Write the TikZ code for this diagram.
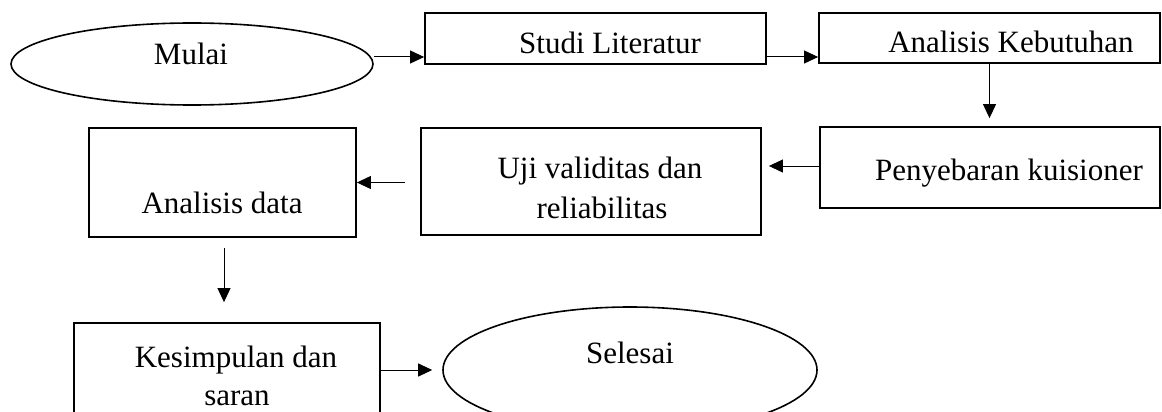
\documentclass[tikz,border=0pt]{standalone}
\usepackage{fontspec}
\setmainfont{Liberation Serif}
\usetikzlibrary{shapes.geometric,arrows.meta,calc}
\begin{document}
\begin{tikzpicture}[x=1pt,y=-1pt,
  boxst/.style={draw,line width=1.8pt,rectangle,inner sep=0pt},
  ovalst/.style={draw,line width=1.6pt,ellipse,inner sep=0pt},
  txt/.style={anchor=base,inner sep=0pt,font=\fontsize{31}{36}\selectfont},
  arr/.style={line width=1pt,-{Triangle[length=14pt,width=13pt]}}]
\useasboundingbox (0,0) rectangle (1162,412);
\clip (0,0) rectangle (1162,412);
% shapes
\node[ovalst,minimum width=362pt,minimum height=82pt] (mulai) at (192,64) {};
\node[boxst,minimum width=341pt,minimum height=51pt] (studi) at (595.5,38.5) {};
\node[boxst,minimum width=341pt,minimum height=50pt] (kebutuhan) at (989.5,38) {};
\node[boxst,minimum width=340pt,minimum height=81pt] (penyebaran) at (990,167.5) {};
\node[boxst,minimum width=340pt,minimum height=107pt] (uji) at (591,181.5) {};
\node[boxst,minimum width=267pt,minimum height=109pt] (data) at (222.5,182.5) {};
\node[boxst,minimum width=306pt,minimum height=109pt] (kesimpulan) at (227,377.5) {};
\node[ovalst,minimum width=374pt,minimum height=126pt] (selesai) at (630,370) {};
% texts
\node[txt] (tmulai) at (191,64) {Mulai};
\node[txt] (tstudi) at (610,54) {Studi Literatur};
\node[txt] (tkeb) at (1011,53) {Analisis Kebutuhan};
\node[txt] (tpeny) at (1009,180) {Penyebaran kuisioner};
\node[txt] (tuji1) at (600,178) {Uji validitas dan};
\node[txt] (tuji2) at (602,218) {reliabilitas};
\node[txt] (tdata) at (222,213) {Analisis data};
\node[txt] (tkes1) at (236,367) {Kesimpulan dan};
\node[txt] (tkes2) at (237,405) {saran};
\node[txt] (tsel) at (630,363) {Selesai};
% connectors
\coordinate (a1) at ([yshift=-18.5pt]studi.west);
\coordinate (a2) at ([yshift=-18.5pt]studi.east);
\coordinate (a3) at ([yshift=1.5pt]penyebaran.west);
\coordinate (a4) at ([xshift=1.5pt]data.south);
\draw[arr] (mulai.east |- a1) -- (a1);
\draw[arr] (a2) -- (kebutuhan.west |- a2);
\draw[arr,shorten >=8pt] (kebutuhan.south) -- (kebutuhan.south |- penyebaran.north);
\draw[arr,shorten >=7pt] (a3) -- (uji.east |- a3);
\draw[arr,shorten <=15pt] (uji.west |- data.east) -- (data.east);
\draw[arr,shorten <=10pt,shorten >=20pt] (a4) -- (a4 |- kesimpulan.north);
\draw[arr,shorten >=10pt] (kesimpulan.east |- selesai.west) -- (selesai.west);
\end{tikzpicture}
\end{document}
